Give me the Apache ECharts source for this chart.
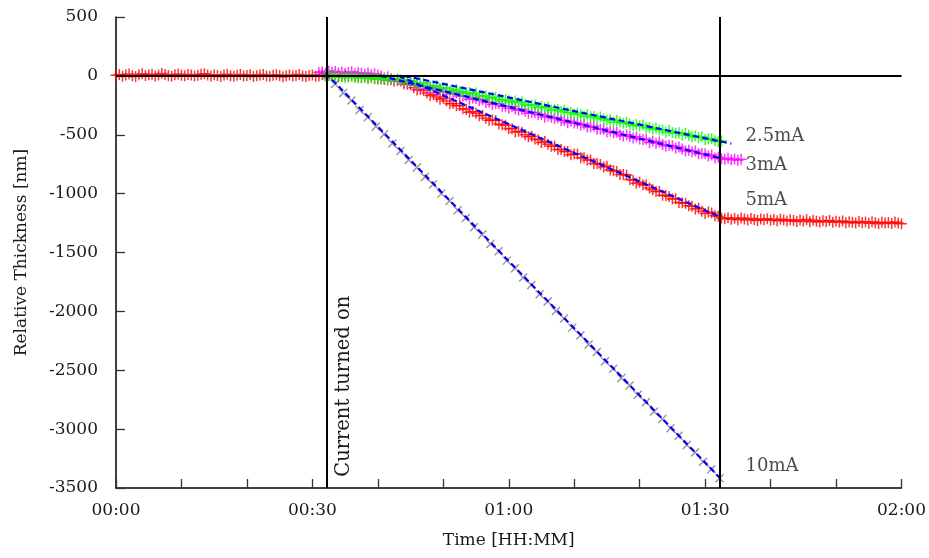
<!DOCTYPE html>
<html>
<head>
<meta charset="utf-8">
<title>Relative Thickness</title>
<script src="https://cdn.jsdelivr.net/npm/echarts@6/dist/echarts.min.js"></script>
<style>
  html, body { margin: 0; padding: 0; background: #fff; }
  #chart { width: 929px; height: 558px; }
</style>
</head>
<body>
<div id="chart"></div>
<script>
// time in minutes, thickness in nm
const STEP = 0.5

// 5mA, sampled every 0.5 min from 00:00
const RED_T0 = 0
const red5mA = [
  5, 12, -3, 8, 15, 2, -6, 10, 18, 4, 9, 14, 0, 7, 20, 11, 3, -4, 9, 16,
  6, 1, 12, 8, -2, 5, 13, 19, 7, 0, 10, 4, -5, 8, 14, 2, -3, 6, 11, -1,
  3, 9, -6, 2, 7, 12, 0, -4, 5, 10, 3, -7, 1, 8, -2, 4, 11, 0, -5, 3,
  7, -3, 2, 9, 1,
  4, -2, 8, 1, -5, 3, -8, -2, -10, -4, -14, -9, -18, -12, -22, -27, -20, -31, -36, -30, -42, -38,
  -44, -70, -71, -73, -101, -121, -116, -124, -146, -166, -160, -180, -199, -189, -213, -236, -235, -254, -251, -280,
  -285, -309, -303, -318, -338, -335, -359, -377, -374, -379, -408, -416, -419, -446, -449, -476, -470, -479, -499, -516,
  -512, -537, -542, -566, -557, -580, -598, -598, -626, -625, -642, -643, -670, -663, -664, -695, -695, -715, -714, -745,
  -744, -752, -773, -768, -800, -805, -812, -838, -837, -842, -881, -887, -912, -904, -925, -926, -953, -967, -983, -982,
  -1014, -1015, -1024, -1045, -1043, -1075, -1077, -1081, -1103, -1107, -1131, -1125, -1149, -1168, -1155, -1164, -1188, -1193, -1208,
  -1214, -1205, -1218, -1210, -1222, -1208, -1215, -1225, -1212, -1219,
  -1228, -1216, -1222, -1213, -1226, -1220, -1231, -1218, -1224, -1233,
  -1221, -1229, -1236, -1225, -1232, -1219, -1238, -1227, -1234, -1241,
  -1230, -1237, -1228, -1244, -1235, -1240, -1232, -1247, -1238, -1243,
  -1250, -1236, -1245, -1241, -1252, -1239, -1248, -1255, -1243, -1250,
  -1246, -1253, -1241, -1249, -1255
]

// 3mA, every 0.5 min from 00:31
const MAG_T0 = 31
const mag3mA = [
  28, 35, 22, 41, 30, 38, 25, 33, 20, 29, 36, 18, 27, 22, 14, 24, 10, 17, 8,
  0, -18, -8, -27, -43, -34, -37, -57, -57, -53, -80, -75, -89, -83, -109, -99, -112, -125, -114, -135,
  -132, -154, -150, -146, -171, -173, -171, -198, -188, -193, -209, -202, -226, -225, -243, -234, -237, -257, -257, -274,
  -261, -281, -292, -286, -300, -317, -310, -310, -331, -329, -349, -340, -352, -363, -356, -380, -378, -399, -385, -401,
  -402, -417, -411, -435, -431, -427, -453, -454, -453, -477, -470, -482, -476, -499, -510, -501, -512, -528, -517, -537,
  -540, -539, -565, -556, -572, -562, -582, -596, -591, -594, -614, -605, -621, -638, -631, -644, -637, -662, -659, -662,
  -680, -673, -697, -692, -704,
  -708, -699, -712, -705, -716, -709
]

// 2.5mA, every 0.5 min from 00:32
const GREEN_T0 = 32
const green2_5mA = [
  -2, 6, -8, 3, -12, -4, -15, -6, 1, -10, -18, -9, -14, -22, -11, -25, -17, -28, -20, -30,
  -24, -35, -27, -38, -40,
  -51, -43, -59, -73, -63, -60, -82, -92, -86, -83, -107, -104, -102, -129, -122, -116, -135, -133, -152, -141,
  -153, -146, -170, -171, -168, -189, -182, -181, -201, -213, -201, -211, -225, -214, -229, -219, -242, -251, -247, -247,
  -269, -261, -273, -266, -292, -286, -286, -303, -291, -310, -310, -326, -316, -328, -344, -330, -348, -345, -362, -349,
  -367, -376, -373, -394, -379, -392, -402, -393, -411, -423, -413, -425, -417, -441, -438, -454, -444, -460, -460, -478,
  -464, -480, -488, -484, -503, -488, -504, -517, -511, -525, -518, -541, -535, -532, -550, -559, -552
]

// 10mA, every 1.25 min from current on
const GRAY_T0 = 32.2
const GRAY_STEP = 1.25
const gray10mA = [
  5, -68, -146, -210, -289, -352, -430, -495, -574, -637, -715, -779, -858, -921, -1000, -1063,
  -1142, -1206, -1285, -1348, -1427, -1490, -1569, -1633, -1712, -1775, -1854, -1917, -1996, -2060,
  -2138, -2202, -2281, -2344, -2423, -2487, -2565, -2629, -2708, -2771, -2850, -2914, -2992, -3056,
  -3134, -3198, -3277, -3341, -3418
]

// linear fits (start, end)
const fit10mA = [[32.0, 25], [92.2, -3410]]
const fit5mA = [[43.2, 0], [92.2, -1196]]
const fit3mA = [[40.4, 0], [92.2, -697]]
const fit2_5mA = [[44.1, 0], [94.0, -576]]

const currentOn = 32.2
const currentOff = 92.2

const curveNames = ['2.5mA', '3mA', '5mA', '10mA']
const curveLabelT = [96.1, 96.1, 96.1, 96.1]
const curveLabelV = [-514, -756, -1054, -3316]

const timeLabels = ['00:00', '00:30', '01:00', '01:30', '02:00']

const FONT = 'DejaVu Serif'
const TEXT = '#1a1a1a'

function toPoints(t0, step, values) {
  return values.map((v, i) => [t0 + i * step, v])
}

const plusPath = 'path://M0,5L10,5M5,0L5,10'
const crossPath = 'path://M0,0L10,10M10,0L0,10'

function markerSeries(name, data, color, symbol, size, width) {
  return {
    name,
    type: 'scatter',
    data,
    symbol,
    symbolSize: size,
    itemStyle: { color: 'rgba(0,0,0,0)', borderColor: color, borderWidth: width },
    silent: true,
  }
}

function fitSeries(data) {
  return {
    type: 'line',
    data,
    showSymbol: false,
    symbol: 'none',
    lineStyle: { color: '#0000ff', width: 2.2, type: [6, 3.5] },
    silent: true,
  }
}

const chart = echarts.init(document.getElementById('chart'))

chart.setOption({
  animation: false,
  grid: { left: 116, right: 27, top: 17, bottom: 70 },
  xAxis: {
    type: 'value',
    min: 0,
    max: 120,
    interval: 10,
    name: 'Time [HH:MM]',
    nameLocation: 'middle',
    nameGap: 44,
    nameTextStyle: { fontFamily: FONT, fontSize: 17, color: TEXT },
    axisLine: { onZero: false, lineStyle: { color: '#000', width: 1.5 } },
    axisTick: { inside: true, length: 9, lineStyle: { color: '#333', width: 1.3 } },
    axisLabel: {
      margin: 14,
      fontFamily: FONT,
      fontSize: 17,
      color: TEXT,
      formatter: (v) => (v % 30 === 0 ? timeLabels[v / 30] : ''),
    },
    splitLine: { show: false },
  },
  yAxis: {
    type: 'value',
    min: -3500,
    max: 500,
    interval: 500,
    name: 'Relative Thickness [nm]',
    nameLocation: 'middle',
    nameGap: 86,
    nameTextStyle: { fontFamily: FONT, fontSize: 17, color: TEXT },
    axisLine: { onZero: false, lineStyle: { color: '#000', width: 1.5 } },
    axisTick: { inside: true, length: 9, lineStyle: { color: '#333', width: 1.3 } },
    axisLabel: {
      margin: 18,
      fontFamily: FONT,
      fontSize: 17,
      color: TEXT,
      formatter: (v) => String(v),
    },
    splitLine: { show: false },
  },
  series: [
    markerSeries('5mA', toPoints(RED_T0, STEP, red5mA), '#ff0000', plusPath, 11, 1.5),
    markerSeries('3mA', toPoints(MAG_T0, STEP, mag3mA), '#ff00ff', plusPath, 11, 1.5),
    markerSeries('2.5mA', toPoints(GREEN_T0, STEP, green2_5mA), '#00ff00', plusPath, 11, 1.5),
    markerSeries('10mA', toPoints(GRAY_T0, GRAY_STEP, gray10mA), '#7a7a7a', crossPath, 8, 1.4),
    fitSeries(fit10mA),
    fitSeries(fit5mA),
    fitSeries(fit3mA),
    fitSeries(fit2_5mA),
    {
      // zero line and current on/off markers
      type: 'line',
      data: [[0, 0], [120, 0]],
      symbol: 'none',
      lineStyle: { color: '#000', width: 2 },
      silent: true,
      z: 5,
      markLine: {
        silent: true,
        symbol: 'none',
        label: { show: false },
        lineStyle: { color: '#000', width: 2, type: 'solid' },
        data: [{ xAxis: currentOn }, { xAxis: currentOff }],
      },
    },
    {
      type: 'scatter',
      symbolSize: 1,
      itemStyle: { color: 'rgba(0,0,0,0)' },
      silent: true,
      data: curveNames.map((n, i) => ({ name: n, value: [curveLabelT[i], curveLabelV[i]] })),
      label: {
        show: true,
        position: 'right',
        distance: 0,
        formatter: '{b}',
        fontFamily: FONT,
        fontSize: 18,
        color: TEXT,
      },
    },
  ],
})

// rotated note next to the "current on" line
const notePos = chart.convertToPixel({ gridIndex: 0 }, [currentOn, -2636])
chart.setOption({
  graphic: [
    {
      type: 'text',
      x: notePos[0] + 17,
      y: notePos[1],
      rotation: Math.PI / 2,
      style: {
        text: 'Current turned on',
        fontFamily: FONT,
        fontSize: 19.5,
        fill: TEXT,
        align: 'center',
        verticalAlign: 'middle',
      },
    },
  ],
})
</script>
</body>
</html>
